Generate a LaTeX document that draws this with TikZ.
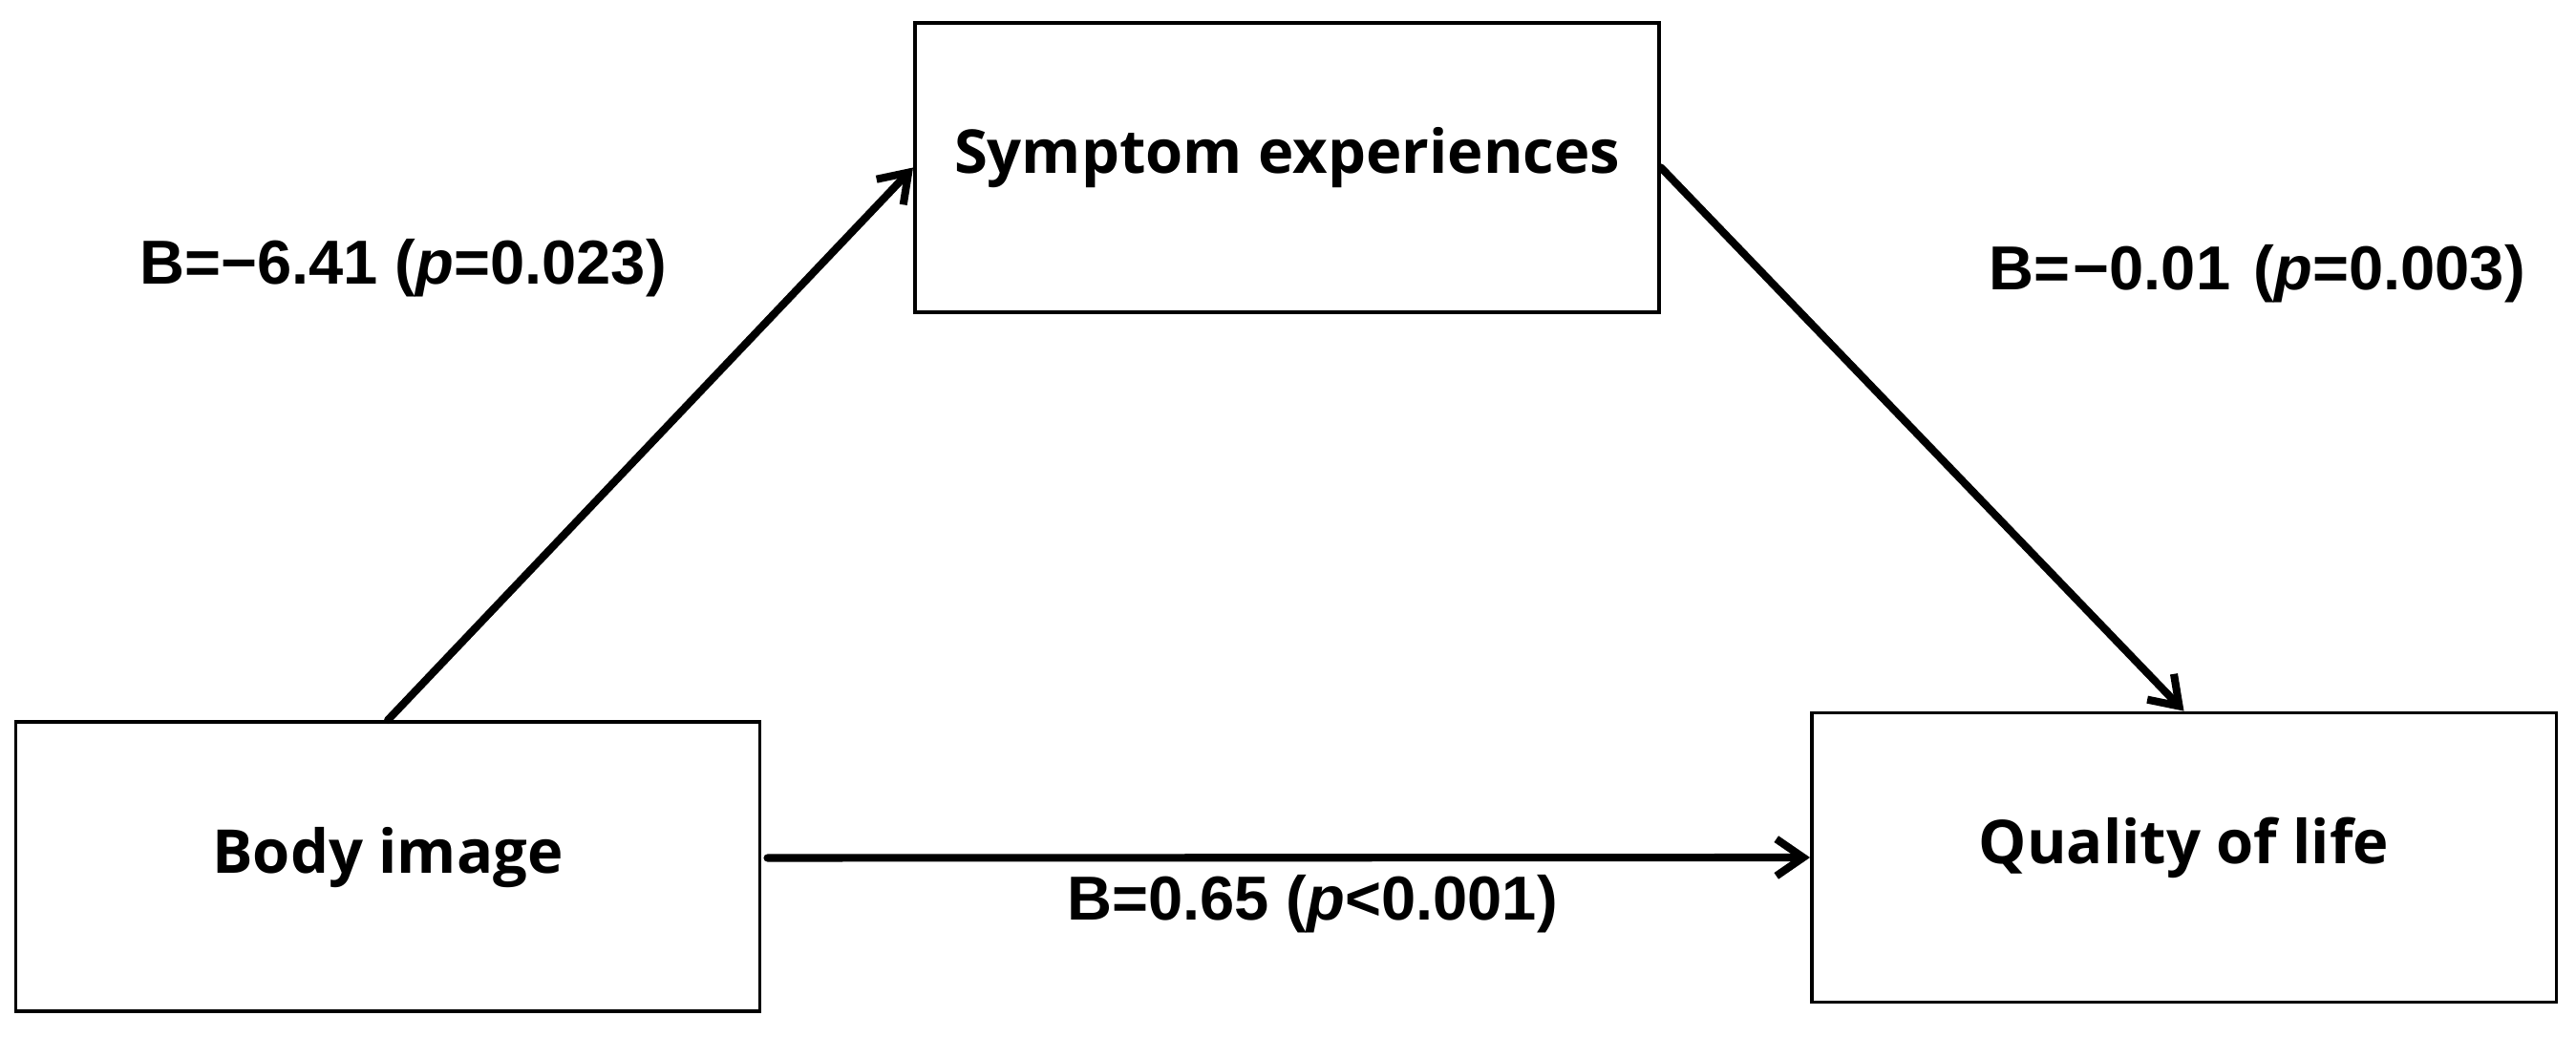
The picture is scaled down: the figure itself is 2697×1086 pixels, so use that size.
\documentclass[tikz,border=0pt]{standalone}
\usepackage{fontspec}
\setmainfont{Open Sans}
\newfontfamily\lblfont{Liberation Sans}
\usetikzlibrary{arrows.meta,calc}
\begin{document}
\begin{tikzpicture}[x=0.01cm,y=-0.01cm,
  box/.style={draw, line width=1pt, minimum width=7.79cm, minimum height=3.03cm,
    font=\fontsize{18}{22}\selectfont\bfseries, text height=0.5cm, text depth=0.37cm, inner sep=0pt},
  arr/.style={line width=2.3pt, -{Straight Barb[length=8pt,width=11pt]}, line cap=round, line join=round},
  lbl/.style={font=\lblfont\fontsize{18.5}{22}\selectfont\bfseries, anchor=base, inner sep=0pt}]
\fill[white] (0,0) rectangle (2697,1086);
\path[use as bounding box] (0,0) rectangle (2697,1086);
\node[box] (sym) at (1347.5,175.5) {Symptom experiences};
\node[box] (body) at (406,907.5) {Body image};
\node[box] (qol) at (2286.5,898) {Quality of life};
\draw[arr] (body.north) -- (sym.west);
\draw[arr] (sym.east) -- (qol.north);
\draw[arr, shorten <=0.06cm] ([yshift=0.09cm]body.east) -- (qol.west);
\node[lbl] (l1) at (422,298) {B=−6.41 (\textit{p}=0.023)};
\node[lbl] (l2) at (2363,304) {B=\kern1pt−0.01\kern7pt(\textit{p}=0.003)};
\node[lbl] (l3) at (1374,964) {B=0.65 (\textit{p}<0.001)};
\end{tikzpicture}
\end{document}
